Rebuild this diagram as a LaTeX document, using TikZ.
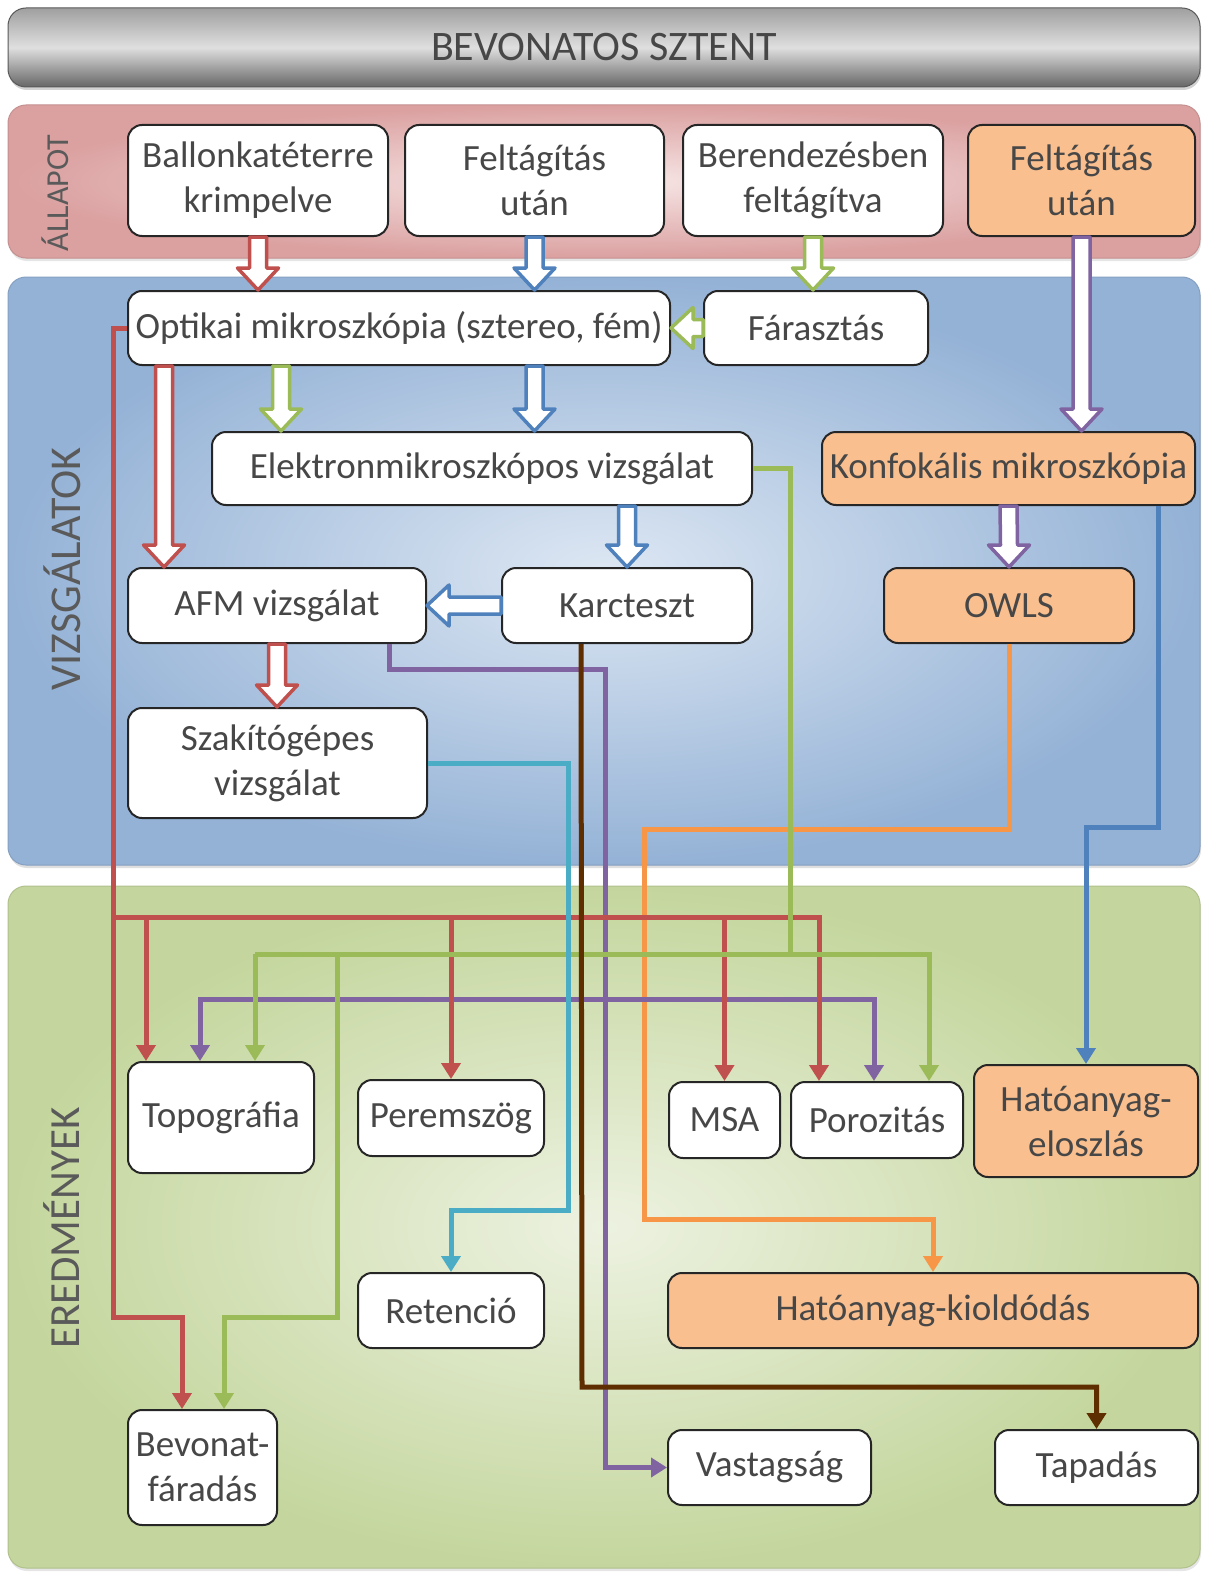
\documentclass[tikz,border=0pt]{standalone}
\usepackage{fontspec}
\setmainfont{Carlito}
\usetikzlibrary{calc,arrows.meta,shadows}
\definecolor{cRed}{HTML}{C0504D}
\definecolor{cBlue}{HTML}{4F81BD}
\definecolor{cGreen}{HTML}{9BBB59}
\definecolor{cPurple}{HTML}{8064A2}
\definecolor{cOrange}{HTML}{F79646}
\definecolor{cCyan}{HTML}{4BACC6}
\definecolor{cBrown}{HTML}{5E2D00}
\definecolor{boxOrange}{HTML}{F9BF8F}
\definecolor{txt}{HTML}{474747}
\definecolor{lbl}{HTML}{5A5A5A}
\definecolor{pinkIn}{HTML}{F7E6E6}
\definecolor{pinkOut}{HTML}{DBA0A0}
\definecolor{blueIn}{HTML}{DDE7F3}
\definecolor{blueOut}{HTML}{94B2D6}
\definecolor{greenIn}{HTML}{EDF2E1}
\definecolor{greenOut}{HTML}{C4D69D}
\tikzset{
  box/.style={draw=black!85, line width=2pt, rounded corners=14pt, fill=white,
    text=txt, font=\fontsize{37}{45}\selectfont, align=center, inner sep=0pt},
  obox/.style={box, fill=boxOrange},
  band/.style={rounded corners=18pt, inner sep=0pt, minimum width=1192pt},
  bandlabel/.style={rotate=90, text=lbl},
  conn/.style={line width=5pt, line join=miter, -{Triangle[length=16pt,width=19pt]}},
  bus/.style={line width=5pt, line join=miter},
}
\newcommand\hdown[3]{%
  \draw[#1, line width=3.5pt, fill=white, line join=round]
    ($(#2)+(-8.5,0)$) -- ($(#3)+(-8.5,-22)$) -- ($(#3)+(-20.5,-22)$) -- (#3)
    -- ($(#3)+(20.5,-22)$) -- ($(#3)+(8.5,-22)$) -- ($(#2)+(8.5,0)$) -- cycle;}
\newcommand\hleft[3]{%
  \draw[#1, line width=3.5pt, fill=white, line join=round]
    ($(#2)+(0,-8.5)$) -- ($(#3)+(22,-8.5)$) -- ($(#3)+(22,-20.5)$) -- (#3)
    -- ($(#3)+(22,20.5)$) -- ($(#3)+(22,8.5)$) -- ($(#2)+(0,8.5)$) -- cycle;}
\begin{document}
\begin{tikzpicture}[x=1pt,y=-1pt]
\fill[white] (0,0) rectangle (1206,1573);
\useasboundingbox (0,0) rectangle (1206,1573);

% bands
\node[band, minimum height=79pt, draw=gray!70!black, line width=1pt,
  top color=gray!75, bottom color=gray!80!black, middle color=gray!25,
  drop shadow={shadow xshift=1pt, shadow yshift=-3pt, opacity=0.35},
  text=txt, font=\fontsize{42}{44}\selectfont] (banner) at (604,47.5) {BEVONATOS SZTENT};
\node[band, minimum height=153pt, draw=pinkOut!90!black, line width=1pt,
  inner color=pinkIn, outer color=pinkOut,
  drop shadow={shadow xshift=1pt, shadow yshift=-3pt, opacity=0.2}] (bandA) at (604,181.5) {};
\node[band, minimum height=588pt, draw=blueOut!90!black, line width=1pt,
  inner color=blueIn, outer color=blueOut,
  drop shadow={shadow xshift=1pt, shadow yshift=-3pt, opacity=0.25}] (bandB) at (604,571) {};
\node[band, minimum height=682pt, draw=greenOut!90!black, line width=1pt,
  inner color=greenIn, outer color=greenOut,
  drop shadow={shadow xshift=1pt, shadow yshift=-3pt, opacity=0.2}] (bandC) at (604,1227) {};

\node[bandlabel, font=\fontsize{32}{34}\selectfont] (lblA) at (55,193) {ÁLLAPOT};
\node[bandlabel, font=\fontsize{44}{46}\selectfont] (lblB) at (62,569) {VIZSGÁLATOK};
\node[bandlabel, font=\fontsize{43}{45}\selectfont] (lblC) at (62,1228) {EREDMÉNYEK};

% boxes
\node[box, minimum width=260pt, minimum height=111pt] (ballon) at (258,180.5) {Ballonkatéterre\\krimpelve};
\node[box, minimum width=259pt, minimum height=111pt] (feltagA) at (534.5,180.5) {Feltágítás\\után};
\node[box, minimum width=260pt, minimum height=111pt] (berend) at (813,180.5) {Berendezésben\\feltágítva};
\node[obox, minimum width=227pt, minimum height=111pt] (feltagB) at (1081.5,180.5) {Feltágítás\\után};

\node[box, minimum width=542pt, minimum height=74pt] (optikai) at (399,328) {Optikai mikroszkópia (sztereo, fém)};
\node[box, minimum width=224pt, minimum height=74pt] (farasz) at (816,328) {Fárasztás};
\node[box, minimum width=540pt, minimum height=73pt] (elektron) at (482,468.5) {Elektronmikroszkópos vizsgálat};
\node[obox, minimum width=373pt, minimum height=73pt] (konfok) at (1008.5,468.5) {Konfokális mikroszkópia};
\node[box, minimum width=298pt, minimum height=75pt] (afm) at (277,605.5) {AFM vizsgálat};
\node[box, minimum width=250pt, minimum height=75pt] (karc) at (627,605.5) {Karcteszt};
\node[obox, minimum width=250pt, minimum height=75pt] (owls) at (1009,605.5) {OWLS};
\node[box, minimum width=299pt, minimum height=110pt] (szakito) at (277.5,763) {Szakítógépes\\vizsgálat};

\node[box, minimum width=186pt, minimum height=111pt] (topo) at (221,1117.5) {Topográfia};
\node[box, minimum width=186pt, minimum height=76pt] (perem) at (451,1118) {Peremszög};
\node[box, minimum width=111pt, minimum height=76pt] (msa) at (724.5,1120) {MSA};
\node[box, minimum width=172pt, minimum height=76pt] (poroz) at (877,1120) {Porozitás};
\node[obox, minimum width=224pt, minimum height=112pt] (hatoel) at (1086,1121) {Hatóanyag-\\eloszlás};
\node[box, minimum width=186pt, minimum height=75pt] (retenc) at (451,1310.5) {Retenció};
\node[obox, minimum width=530pt, minimum height=75pt] (kiold) at (933,1310.5) {Hatóanyag-kioldódás};
\node[box, minimum width=149pt, minimum height=115pt] (bevon) at (202.5,1467.5) {Bevonat-\\fáradás};
\node[box, minimum width=203pt, minimum height=75pt] (vastag) at (769.5,1467.5) {Vastagság};
\node[box, minimum width=203pt, minimum height=75pt] (tapad) at (1096.5,1467.5) {Tapadás};

% helper coordinates
\coordinate (rJ) at (113,917);
\coordinate (rB) at (113,1317);
\coordinate (rT) at ($(topo.north west)+(19,0)$);
\coordinate (rP) at ($(poroz.north west)+(29,0)$);
\coordinate (rF) at ($(bevon.north west)+(55,0)$);
\coordinate (gJ) at (790,954);
\coordinate (gX) at (337,954);
\coordinate (gY) at (337,1317);
\coordinate (gT) at ($(topo.north west)+(128,0)$);
\coordinate (gP) at ($(poroz.north east)+(-35,0)$);
\coordinate (gF) at ($(bevon.north west)+(97,0)$);
\coordinate (pA) at ($(afm.south east)+(-38,0)$);
\coordinate (pV) at (605,669);
\coordinate (pJ) at (605,999);
\coordinate (pT) at ($(topo.north west)+(73,0)$);
\coordinate (pP) at ($(poroz.north west)+(84,0)$);
\coordinate (bK) at ($(karc.south west)+(80,0)$);
\coordinate (bJ) at (582,1387);
\coordinate (cJ) at (568,1210);
\coordinate (oA) at (644,829);
\coordinate (oB) at (644,1219);
\coordinate (kB) at ($(konfok.south east)+(-38,0)$);
\coordinate (kM) at ($(hatoel.north)+(0,-237)$);

% thin connectors
\draw[conn, cOrange] (owls.south) |- (oA) -- (oB) -| (kiold.north);
\draw[conn, cBlue] (kB) |- (kM) -- (hatoel.north);
\draw[conn, cPurple] (pA) |- (pV) -- (pV |- vastag.west) -- (vastag.west);
\draw[conn, cPurple] (pJ) -| (pT);
\draw[conn, cPurple] (pJ) -| (pP);
\draw[conn, cRed] (optikai.west) -| (rB) -| (rF);
\draw[conn, cRed] (rJ) -| (rP);
\draw[conn, cRed] (rT |- rJ) -- (rT);
\draw[conn, cRed] (perem.north |- rJ) -- (perem.north);
\draw[conn, cRed] (msa.north |- rJ) -- (msa.north);
\draw[bus, cGreen] (elektron.east) -| (gJ);
\draw[conn, cGreen] (gT |- gJ) -| (gP);
\draw[conn, cGreen] (gT |- gJ) -- (gT);
\draw[conn, cGreen] (gX) -- (gY) -| (gF);
\draw[conn, cCyan] (szakito.east) -| (cJ) -| (retenc.north);
\draw[conn, cBrown] (bK) -- (bJ) -| (tapad.north);

% hollow arrows
\hdown{cRed}{ballon.south}{ballon.south |- optikai.north}
\hdown{cBlue}{feltagA.south}{feltagA.south |- optikai.north}
\hdown{cGreen}{berend.south}{berend.south |- farasz.north}
\hdown{cPurple}{feltagB.south}{feltagB.south |- konfok.north}
\hleft{cGreen}{farasz.west}{optikai.east}
\coordinate (h1) at ($(optikai.south west)+(37,0)$);
\coordinate (h2) at ($(optikai.south west)+(154,0)$);
\hdown{cRed}{h1}{h1 |- afm.north}
\hdown{cGreen}{h2}{h2 |- elektron.north}
\hdown{cBlue}{feltagA.south |- optikai.south}{feltagA.south |- elektron.north}
\hdown{cBlue}{karc.north |- elektron.south}{karc.north}
\hleft{cBlue}{karc.west}{afm.east}
\hdown{cPurple}{konfok.south}{owls.north}
\hdown{cRed}{afm.south}{afm.south |- szakito.north}
\end{tikzpicture}
\end{document}
